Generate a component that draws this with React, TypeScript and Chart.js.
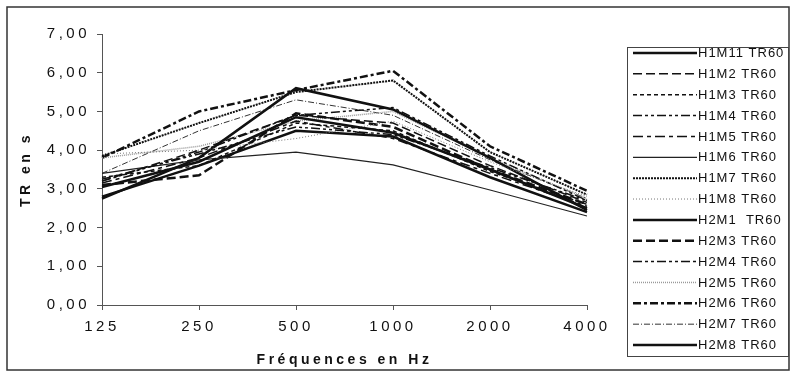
import React, { useEffect, useRef } from 'react';
import { Chart, registerables } from 'chart.js';

Chart.register(...registerables);

// ---- data ----
const frequencies = ['125', '250', '500', '1000', '2000', '4000'];
const seriesNames = [
  'H1M11 TR60', 'H1M2 TR60', 'H1M3 TR60', 'H1M4 TR60', 'H1M5 TR60',
  'H1M6 TR60', 'H1M7 TR60', 'H1M8 TR60', 'H2M1  TR60', 'H2M3 TR60',
  'H2M4 TR60', 'H2M5 TR60', 'H2M6 TR60', 'H2M7 TR60', 'H2M8 TR60',
];
const h1m11 = [3.05, 3.7, 4.85, 4.45, 3.5, 2.5];
const h1m2 = [3.2, 4.0, 4.9, 4.7, 3.6, 2.65];
const h1m3 = [3.3, 3.6, 4.7, 4.5, 3.45, 2.6];
const h1m4 = [3.25, 3.9, 4.6, 4.4, 3.55, 2.7];
const h1m5 = [3.15, 3.8, 4.75, 4.3, 3.4, 2.55];
const h1m6 = [3.4, 3.75, 3.95, 3.62, 2.97, 2.3];
const h1m7 = [3.85, 4.7, 5.5, 5.8, 3.95, 2.85];
const h1m8 = [3.9, 4.0, 4.3, 4.75, 3.7, 2.8];
const h2m1 = [2.75, 3.8, 5.6, 5.05, 3.8, 2.45];
const h2m3 = [3.1, 3.35, 4.95, 4.6, 3.5, 2.6];
const h2m4 = [3.2, 3.95, 4.9, 5.1, 3.85, 2.7];
const h2m5 = [3.8, 4.1, 4.75, 5.0, 3.8, 2.75];
const h2m6 = [3.8, 5.0, 5.55, 6.05, 4.1, 2.95];
const h2m7 = [3.4, 4.5, 5.3, 4.9, 3.75, 2.75];
const h2m8 = [2.8, 3.6, 4.5, 4.35, 3.3, 2.4];
const seriesValues = [h1m11, h1m2, h1m3, h1m4, h1m5, h1m6, h1m7, h1m8, h2m1, h2m3, h2m4, h2m5, h2m6, h2m7, h2m8];
const yMin = 0;
const yMax = 7;
const yStep = 1;
const xTitle = 'Fréquences en Hz';
const yTitle = 'TR en s';

// ---- styles ----
const lineStyles = [
  { color: '#111', width: 2.5, dash: [] as number[] },
  { color: '#111', width: 1.5, dash: [9, 4] },
  { color: '#111', width: 1.5, dash: [4, 3] },
  { color: '#111', width: 1.5, dash: [9, 3, 3, 3, 3, 3] },
  { color: '#111', width: 1.5, dash: [10, 4, 4, 4] },
  { color: '#222', width: 1.2, dash: [] },
  { color: '#111', width: 2, dash: [2, 1] },
  { color: '#777', width: 1, dash: [1, 2] },
  { color: '#111', width: 2.5, dash: [] },
  { color: '#111', width: 2.5, dash: [9, 4] },
  { color: '#111', width: 1.5, dash: [9, 3, 3, 3, 3, 3] },
  { color: '#999', width: 1.5, dash: [1, 1] },
  { color: '#111', width: 2.5, dash: [8, 3, 3, 3] },
  { color: '#333', width: 1, dash: [6, 2, 1, 2] },
  { color: '#111', width: 2.5, dash: [] },
];

const FONT = "'Liberation Sans', Arial, sans-serif";

const decorPlugin = {
  id: 'decor',
  beforeUpdate(chart: any) {
    chart.ctx.letterSpacing = '3.5px';
  },
  beforeDraw(chart: any) {
    const ctx = chart.ctx;
    ctx.save();
    ctx.fillStyle = '#fff';
    ctx.fillRect(0, 0, chart.width, chart.height);
    ctx.restore();
    ctx.letterSpacing = '3.5px';
  },
  afterDraw(chart: any) {
    const ctx = chart.ctx;
    const area = chart.chartArea;
    ctx.save();
    ctx.letterSpacing = '0px';
    // outer frame
    ctx.strokeStyle = '#333';
    ctx.lineWidth = 1.5;
    ctx.setLineDash([]);
    ctx.strokeRect(7, 7, chart.width - 9, chart.height - 17);
    // legend frame
    const lx = area.right + 40.5;
    const ly = 47.5;
    const lw = chart.width - lx - 2.5;
    const lh = 309;
    ctx.lineWidth = 1;
    ctx.strokeStyle = '#444';
    ctx.strokeRect(lx, ly, lw, lh);
    // legend items
    const pitch = 20.86;
    chart.data.datasets.forEach((ds: any, i: number) => {
      const y = ly + 5.5 + i * pitch;
      ctx.beginPath();
      ctx.strokeStyle = ds.borderColor;
      ctx.lineWidth = ds.borderWidth;
      ctx.setLineDash(ds.borderDash || []);
      ctx.moveTo(lx + 5.5, y);
      ctx.lineTo(lx + 69.5, y);
      ctx.stroke();
      ctx.setLineDash([]);
      ctx.fillStyle = '#111';
      ctx.font = `13px ${FONT}`;
      ctx.letterSpacing = '1px';
      ctx.textBaseline = 'middle';
      ctx.textAlign = 'left';
      ctx.fillText(ds.label, lx + 70.5, y + 0.5);
    });
    ctx.restore();
  },
};

export default function App() {
  const ref = useRef<HTMLCanvasElement | null>(null);
  useEffect(() => {
    if (!ref.current) return;
    const chart = new Chart(ref.current, {
      type: 'line',
      data: {
        labels: frequencies,
        datasets: seriesNames.map((name, i) => ({
          label: name,
          data: seriesValues[i],
          borderColor: lineStyles[i].color,
          backgroundColor: lineStyles[i].color,
          borderWidth: lineStyles[i].width,
          borderDash: lineStyles[i].dash,
          pointRadius: 0,
          tension: 0,
          fill: false,
        })),
      },
      options: {
        animation: false,
        responsive: false,
        devicePixelRatio: 1,
        layout: { padding: { left: 14, top: 34, right: 204, bottom: 7 } },
        plugins: { legend: { display: false }, tooltip: { enabled: false } },
        scales: {
          x: {
            offset: false,
            grid: { display: true, drawOnChartArea: false, tickLength: 5, color: '#555' },
            border: { color: '#555', width: 1 },
            ticks: { color: '#111', font: { family: FONT, size: 15 }, padding: 8, maxRotation: 0, autoSkip: false },
            title: { display: true, text: xTitle, color: '#111', font: { family: FONT, size: 14, weight: 'bold' }, padding: 4 },
            afterFit(scale: any) { scale.height = 68; },
          },
          y: {
            min: yMin,
            max: yMax,
            grid: { display: true, drawOnChartArea: false, tickLength: 5, color: '#555' },
            border: { color: '#555', width: 1 },
            ticks: {
              stepSize: yStep,
              color: '#111',
              font: { family: FONT, size: 15 },
              padding: 7,
              callback: (v: any) => Number(v).toFixed(2).replace('.', ','),
            },
            title: { display: true, text: yTitle, color: '#111', font: { family: FONT, size: 14, weight: 'bold' }, padding: 4 },
            afterFit(scale: any) { scale.width = 88; },
          },
        },
      },
      plugins: [decorPlugin],
    } as any);
    return () => chart.destroy();
  }, []);
  return (
    <div style={{ position: 'absolute', left: 0, top: 0, width: 791, height: 380 }}>
      <canvas ref={ref} width={791} height={380} />
    </div>
  );
}
